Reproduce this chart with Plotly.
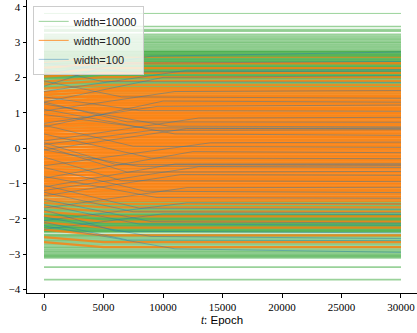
import plotly.graph_objects as go

# Epoch grid of the recorded trajectories
GREEN_EPOCHS = [0, 30000]
ORANGE_EPOCHS = [0, 5000, 30000]
LAST_EPOCH = 30000

# width=10000: parameters stay put during training
GREEN_LEVELS = [
    3.81, 3.44, 3.35, 3.31, 3.22, 3.17, 3.12, 3.08, 3.04, 3.00,
    2.96, 2.92, 2.88, 2.84, 2.80,
    2.76, 2.74, 2.72, 2.70, 2.68, 2.66, 2.64, 2.62, 2.60, 2.58,
    2.56, 2.54, 2.52, 2.50, 2.48, 2.46, 2.44, 2.42, 2.40, 2.38,
    2.36, 2.34, 2.32, 2.30, 2.28, 2.26, 2.24, 2.22, 2.20, 2.18,
    2.16, 2.14, 2.12, 2.10, 2.08, 2.06, 2.04, 2.02, 2.00, 1.98,
    1.95, 1.92, 1.89, 1.86, 1.83, 1.80, 1.77, 1.74, 1.71,
    1.66, 1.60, 1.54, 1.48, 1.42, 1.35, 1.28, 1.21, 1.14, 1.07,
    1.00, 0.92, 0.84, 0.76, 0.68, 0.59, 0.50, 0.41, 0.32, 0.23,
    0.14, 0.05, -0.04, -0.13, -0.22, -0.31, -0.40, -0.49, -0.58, -0.67,
    -0.76, -0.85, -0.93, -1.01, -1.09, -1.17, -1.24, -1.31, -1.38, -1.44,
    -1.50, -1.53, -1.56, -1.59, -1.62, -1.65, -1.68, -1.71, -1.74, -1.77,
    -1.80, -1.83, -1.86, -1.88, -1.90, -1.92, -1.94, -1.96, -1.98, -2.00,
    -2.02, -2.04, -2.06, -2.08, -2.10, -2.12, -2.14, -2.16, -2.18, -2.20,
    -2.22, -2.24, -2.26, -2.28, -2.30, -2.32, -2.34, -2.36, -2.38,
    -2.44, -2.47, -2.50, -2.53, -2.57, -2.61, -2.64, -2.68, -2.72, -2.76,
    -2.80, -2.84, -2.88, -2.92, -2.95,
    -2.99, -3.02, -3.05, -3.08, -3.11, -3.37, -3.72,
]

# width=1000: small outward drift early in training
ORANGE_START = [
    2.42, 2.27, 2.10, 2.02, 1.88, 1.80, 1.68, 1.59,
    1.58, 1.49, 1.52, 1.43, 1.39, 1.42, 1.31, 1.32,
    1.26, 1.25, 1.17, 1.19, 1.10, 1.12, 1.03, 1.05,
    0.95, 0.98, 0.89, 0.91, 0.80, 0.85, 0.75, 0.78,
    0.66, 0.72, 0.60, 0.65, 0.52, 0.57, 0.45, 0.50,
    0.38, 0.42, 0.30, 0.35, 0.23, 0.27, 0.15, 0.19,
    0.09, 0.13, 0.00, 0.05, -0.08, -0.02, -0.15, -0.10,
    -0.22, -0.16, -0.30, -0.24, -0.37, -0.31, -0.45, -0.39,
    -0.44, -0.55, -0.50, -0.63, -0.58, -0.71, -0.66, -0.78,
    -0.72, -0.86, -0.80, -0.93, -0.87, -1.00, -0.95, -1.08,
    -1.02, -1.15, -1.11, -1.21, -1.18, -1.27, -1.26, -1.33,
    -1.34, -1.42, -1.47, -1.55, -1.66, -1.80, -1.92, -2.10,
    -2.31, -2.52, -2.66,
]
ORANGE_END = [
    2.57, 2.40, 2.26, 2.13, 2.01, 1.90, 1.79, 1.70,
    1.65, 1.61, 1.57, 1.52, 1.48, 1.45, 1.41, 1.37,
    1.33, 1.29, 1.26, 1.22, 1.18, 1.14, 1.11, 1.07,
    1.03, 0.99, 0.96, 0.92, 0.88, 0.85, 0.81, 0.77,
    0.73, 0.70, 0.66, 0.62, 0.58, 0.54, 0.51, 0.47,
    0.43, 0.39, 0.35, 0.32, 0.28, 0.24, 0.20, 0.16,
    0.13, 0.09, 0.05, 0.01, -0.03, -0.07, -0.10, -0.14,
    -0.18, -0.22, -0.26, -0.29, -0.33, -0.37, -0.41, -0.45,
    -0.49, -0.52, -0.56, -0.60, -0.64, -0.68, -0.71, -0.75,
    -0.79, -0.83, -0.87, -0.91, -0.94, -0.98, -1.02, -1.06,
    -1.10, -1.14, -1.18, -1.22, -1.26, -1.30, -1.35, -1.39,
    -1.44, -1.49, -1.58, -1.68, -1.80, -1.93, -2.08, -2.25,
    -2.47, -2.66, -2.80,
]

# width=100: large moves during the first epochs, each settling at its own epoch
BLUE_START = [
    2.10, 1.75, 1.60, 2.40, 1.30, 2.25,
    1.05, 1.90, 0.70, 1.45, 0.20, 1.30,
    1.25, -0.05, 0.95, 0.10, 1.10, -0.50,
    0.65, -0.85, 0.40, -1.10, 0.15, -0.05,
    -1.20, 0.05, -1.35, -0.25, -1.70, -0.55,
    -0.80, -2.05, -1.05, -1.25, -2.30, -1.45,
    -1.60, -1.75, -1.95, -2.10, -2.20, 0.60,
]
BLUE_SETTLE_EPOCH = [
    9000, 6000, 12000, 7000, 10000, 5000,
    11000, 6500, 9500, 8000, 13000, 7000,
    10500, 12000, 8500, 9000, 11000, 14000,
    7500, 12500, 9000, 11000, 6000, 8000,
    13000, 7000, 11500, 6500, 12000, 8500,
    9500, 12000, 8000, 7500, 10000, 9000,
    8000, 6000, 9000, 7000, 11000, 10000,
]
BLUE_SETTLE = [
    2.60, 2.40, 2.20, 2.15, 2.00, 1.88,
    1.60, 1.45, 1.18, 1.06, 0.85, 0.74,
    0.62, 0.55, 0.57, 0.50, 0.40, 0.15,
    0.05, -0.10, -0.28, -0.45, -0.46, -0.52,
    -0.53, -0.68, -0.75, -0.92, -1.12, -1.22,
    -1.40, -1.55, -1.70, -1.80, -1.86, -2.08,
    -2.15, -2.35, -2.50, -2.60, -2.85, 1.33,
]
BLUE_END = [
    2.72, 2.45, 2.22, 2.18, 2.05, 1.86,
    1.63, 1.41, 1.22, 1.04, 0.87, 0.73,
    0.60, 0.57, 0.55, 0.52, 0.36, 0.17,
    0.02, -0.13, -0.30, -0.44, -0.47, -0.50,
    -0.55, -0.66, -0.77, -0.95, -1.11, -1.26,
    -1.42, -1.58, -1.73, -1.83, -1.88, -2.12,
    -2.18, -2.40, -2.56, -2.62, -2.95, 1.30,
]

X_TICKS = [0, 5000, 10000, 15000, 20000, 25000, 30000]
Y_TICKS = [-4, -3, -2, -1, 0, 1, 2, 3, 4]

fig = go.Figure()


def add_series(curves, name, color, width):
    for i, (xs, ys) in enumerate(curves):
        # the first line of each group doubles as the (thin) legend sample
        fig.add_trace(go.Scatter(
            x=xs, y=ys, mode="lines",
            line=dict(color=color, width=1.0 if i == 0 else width),
            name=name, legendgroup=name, showlegend=(i == 0),
            hoverinfo="skip",
        ))


add_series([(GREEN_EPOCHS, [v, v]) for v in GREEN_LEVELS],
           "width=10000", "rgba(44,160,44,0.48)", 1.7)
add_series([(ORANGE_EPOCHS, [s, e, e]) for s, e in zip(ORANGE_START, ORANGE_END)],
           "width=1000", "rgba(255,127,14,0.8)", 2.3)
add_series([([0, t, LAST_EPOCH], [s, m, e])
            for s, t, m, e in zip(BLUE_START, BLUE_SETTLE_EPOCH, BLUE_SETTLE, BLUE_END)],
           "width=100", "rgba(31,119,180,0.42)", 1.0)

fig.update_layout(
    width=417, height=333,
    margin=dict(l=27, r=0, t=0, b=40),
    paper_bgcolor="white", plot_bgcolor="white",
    font=dict(family="Liberation Serif, serif", size=11, color="black"),
    showlegend=True,
    legend=dict(
        x=0.0146, y=0.98, xanchor="left", yanchor="top",
        bgcolor="rgba(255,255,255,0.8)", bordercolor="#cccccc", borderwidth=1,
        font=dict(family="Liberation Sans, sans-serif", size=11, color="#222222"),
        tracegroupgap=0, itemwidth=30,
    ),
    xaxis=dict(
        range=[-1429, 31345], tickvals=X_TICKS, tickformat="d",
        showgrid=False, zeroline=False, showline=True,
        linecolor="black", linewidth=1,
        ticks="outside", ticklen=3.5, tickwidth=0.8, tickcolor="black",
        title=dict(
            text='<span style="font-family:Liberation Serif"><i>t</i>:</span> Epoch',
            font=dict(family="Liberation Sans, sans-serif", size=11.5), standoff=4,
        ),
    ),
    yaxis=dict(
        range=[-4.1, 4.19], tickvals=Y_TICKS,
        showgrid=False, zeroline=False, showline=True,
        linecolor="black", linewidth=1,
        ticks="outside", ticklen=3.5, tickwidth=0.8, tickcolor="black",
    ),
)

fig.write_html("out.html")
